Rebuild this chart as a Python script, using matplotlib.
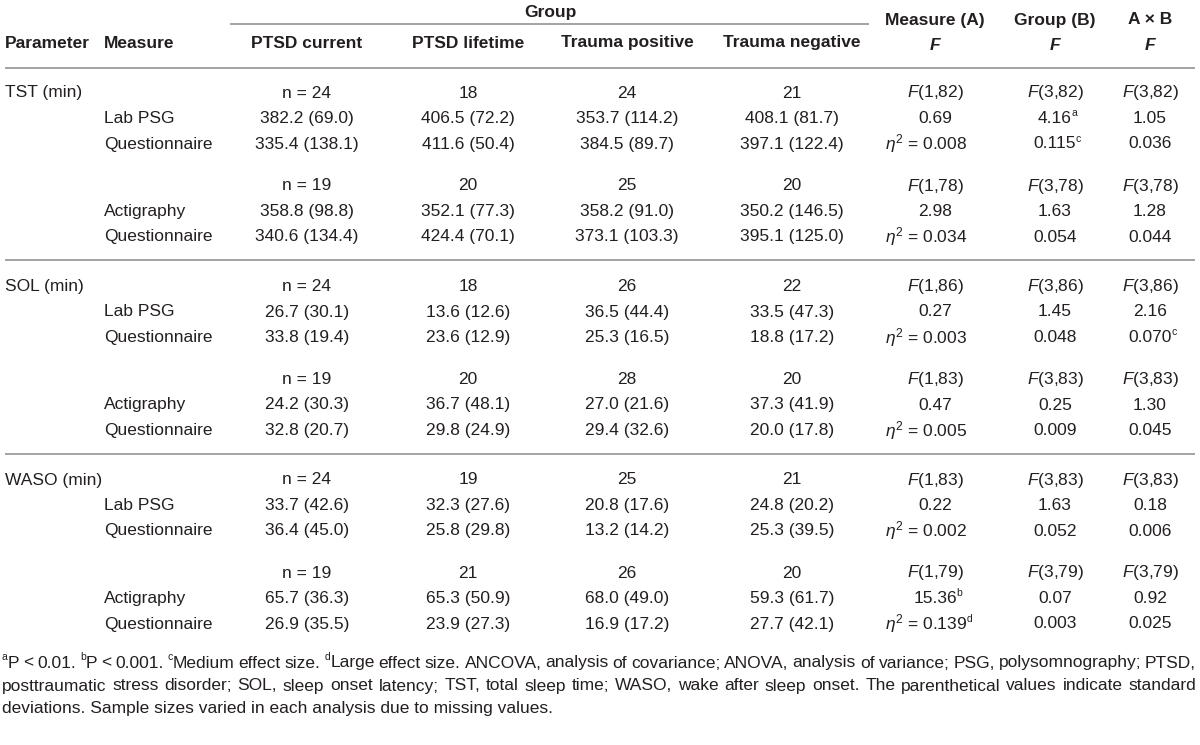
import matplotlib
matplotlib.use('Agg')
import matplotlib.pyplot as plt

plt.rcParams['font.family'] = ['Liberation Sans', 'DejaVu Sans']
plt.rcParams['mathtext.fontset'] = 'custom'
plt.rcParams['mathtext.rm'] = 'Liberation Sans'
plt.rcParams['mathtext.it'] = 'Liberation Sans:italic'

# ---- data ----
groups = ['PTSD current', 'PTSD lifetime', 'Trauma positive', 'Trauma negative']
params = ['TST (min)', 'SOL (min)', 'WASO (min)']
measures = [['Lab PSG', 'Questionnaire'], ['Actigraphy', 'Questionnaire']]

# per parameter: two sub-blocks, each with n, two measure rows (mean, sd)
n_vals = [[[24, 18, 24, 21], [19, 20, 25, 20]],
          [[24, 18, 26, 22], [19, 20, 28, 20]],
          [[24, 19, 25, 21], [19, 21, 26, 20]]]
means = [[[[382.2, 406.5, 353.7, 408.1], [335.4, 411.6, 384.5, 397.1]],
          [[358.8, 352.1, 358.2, 350.2], [340.6, 424.4, 373.1, 395.1]]],
         [[[26.7, 13.6, 36.5, 33.5], [33.8, 23.6, 25.3, 18.8]],
          [[24.2, 36.7, 27.0, 37.3], [32.8, 29.8, 29.4, 20.0]]],
         [[[33.7, 32.3, 20.8, 24.8], [36.4, 25.8, 13.2, 25.3]],
          [[65.7, 65.3, 68.0, 59.3], [26.9, 23.9, 16.9, 27.7]]]]
sds = [[[[69.0, 72.2, 114.2, 81.7], [138.1, 50.4, 89.7, 122.4]],
        [[98.8, 77.3, 91.0, 146.5], [134.4, 70.1, 103.3, 125.0]]],
       [[[30.1, 12.6, 44.4, 47.3], [19.4, 12.9, 16.5, 17.2]],
        [[30.3, 48.1, 21.6, 41.9], [20.7, 24.9, 32.6, 17.8]]],
       [[[42.6, 27.6, 17.6, 20.2], [45.0, 29.8, 14.2, 39.5]],
        [[36.3, 50.9, 49.0, 61.7], [35.5, 27.3, 17.2, 42.1]]]]

# stats: residual df per sub-block, F values (A, B, AxB), eta^2 values
dfs = [[82, 78], [86, 83], [83, 79]]
f_vals = [[['0.69', '4.16', '1.05'], ['2.98', '1.63', '1.28']],
          [['0.27', '1.45', '2.16'], ['0.47', '0.25', '1.30']],
          [['0.22', '1.63', '0.18'], ['15.36', '0.07', '0.92']]]
f_sup = [[['', 'a', ''], ['', '', '']],
         [['', '', ''], ['', '', '']],
         [['', '', ''], ['b', '', '']]]
eta_vals = [[['0.008', '0.115', '0.036'], ['0.034', '0.054', '0.044']],
            [['0.003', '0.048', '0.070'], ['0.005', '0.009', '0.045']],
            [['0.002', '0.052', '0.006'], ['0.139', '0.003', '0.025']]]
eta_sup = [[['', 'c', ''], ['', '', '']],
           [['', '', 'c'], ['', '', '']],
           [['', '', ''], ['d', '', '']]]

# footnote words; a leading "^x" marks a superscript letter
foot1 = ('^aP < 0.01. ^bP < 0.001. ^cMedium effect size. ^dLarge effect size. ANCOVA, '
         'analysis of covariance; ANOVA, analysis of variance; PSG, polysomnography; PTSD,')
foot2 = ('posttraumatic stress disorder; SOL, sleep onset latency; TST, total sleep time; WASO, '
         'wake after sleep onset. The parenthetical values indicate standard')
foot3 = 'deviations. Sample sizes varied in each analysis due to missing values.'

# ---- layout ----
W, H = 1200, 745
fig = plt.figure(figsize=(W / 100, H / 100), dpi=100)
ax = fig.add_axes([0, 0, 1, 1])
ax.set_xlim(0, W); ax.set_ylim(H, 0); ax.axis('off')
rend = fig.canvas.get_renderer()

TC = '#231f20'; LC = '#8a8a8a'; FS = 12.5; SFS = 7.5
col_x = [307, 468, 627, 792]
stat_x = [935, 1055, 1150]
x_par, x_meas = 5, 104

def txt(x, y, s, ha='center', fs=FS, **kw):
    return ax.text(x, y, s, ha=ha, va='center', fontsize=fs, color=TC, **kw)

def width(a):
    return a.get_window_extent(renderer=rend).width

def txt_sup(x, y, s, sp, ha='center', fs=FS):
    a = txt(x, y, s, ha=ha, fs=fs)
    if sp:
        w = width(a)
        right = {'left': x + w, 'center': x + w / 2, 'right': x}[ha]
        txt(right - 0.5, y - 5.5, sp, ha='left', fs=SFS)
    return a

def hline(y, x0=5, x1=1195):
    ax.plot([x0, x1], [y, y], color=LC, lw=1.1, solid_capstyle='butt')

# header
txt(550, 12, 'Group', fontweight='bold')
hline(24, 230, 869)
txt(x_par, 43, 'Parameter', ha='left', fontweight='bold')
txt(x_meas, 43, 'Measure', ha='left', fontweight='bold')
for g, x in zip(groups, col_x):
    txt(x, 43, g, fontweight='bold')
for h, x in zip(['Measure (A)', 'Group (B)', 'A × B'], stat_x):
    txt(x, 20, h, fontweight='bold')
    txt(x, 46, 'F', fontweight='bold', style='italic')
hline(68)

block_top = 93
block_step = 193.5
pitch = 25.5
sub_off = [0, 93]
for p in range(3):
    y0 = block_top + p * block_step
    txt(x_par, y0, params[p], ha='left')
    for s in range(2):
        ys = y0 + sub_off[s]
        for g in range(4):
            nv = n_vals[p][s][g]
            txt(col_x[g], ys, f'n = {nv}' if g == 0 else f'{nv}')
        for r in range(2):
            yr = ys + (r + 1) * pitch
            txt(x_meas, yr, measures[s][r], ha='left')
            for g in range(4):
                txt(col_x[g], yr, f'{means[p][s][r][g]:.1f} ({sds[p][s][r][g]:.1f})')
        d = dfs[p][s]
        for k, num in enumerate([1, 3, 3]):
            txt(stat_x[k], ys, f'$F$({num},{d})')
            txt_sup(stat_x[k], ys + pitch, f_vals[p][s][k], f_sup[p][s][k])
        # measure (A) eta row is right aligned
        txt_sup(967, ys + 2 * pitch, '$\\eta^2$ = ' + eta_vals[p][s][0], eta_sup[p][s][0], ha='right')
        for k in (1, 2):
            txt_sup(stat_x[k], ys + 2 * pitch, eta_vals[p][s][k], eta_sup[p][s][k])
    if p < 2:
        hline(y0 + 167)

# footnote, first two lines justified
FFS = 12.5

def justify(line, y, x0=2, x1=1196):
    items = []
    for w in line.split(' '):
        sp = ''
        if w.startswith('^'):
            sp, w = w[1], w[2:]
        sa = txt(0, y - 5.5, sp, ha='left', fs=SFS) if sp else None
        wa = txt(0, y, w, ha='left', fs=FFS)
        sw = width(sa) if sa else 0
        items.append((sa, wa, sw, sw + width(wa)))
    gap = ((x1 - x0) - sum(it[3] for it in items)) / (len(items) - 1)
    x = x0
    for sa, wa, sw, tw in items:
        if sa:
            sa.set_x(x)
        wa.set_x(x + sw)
        x += tw + gap

justify(foot1, 663)
justify(foot2, 686)
txt(2, 709, foot3, ha='left', fs=FFS)

fig.savefig('out.png', dpi=100, facecolor='white')
